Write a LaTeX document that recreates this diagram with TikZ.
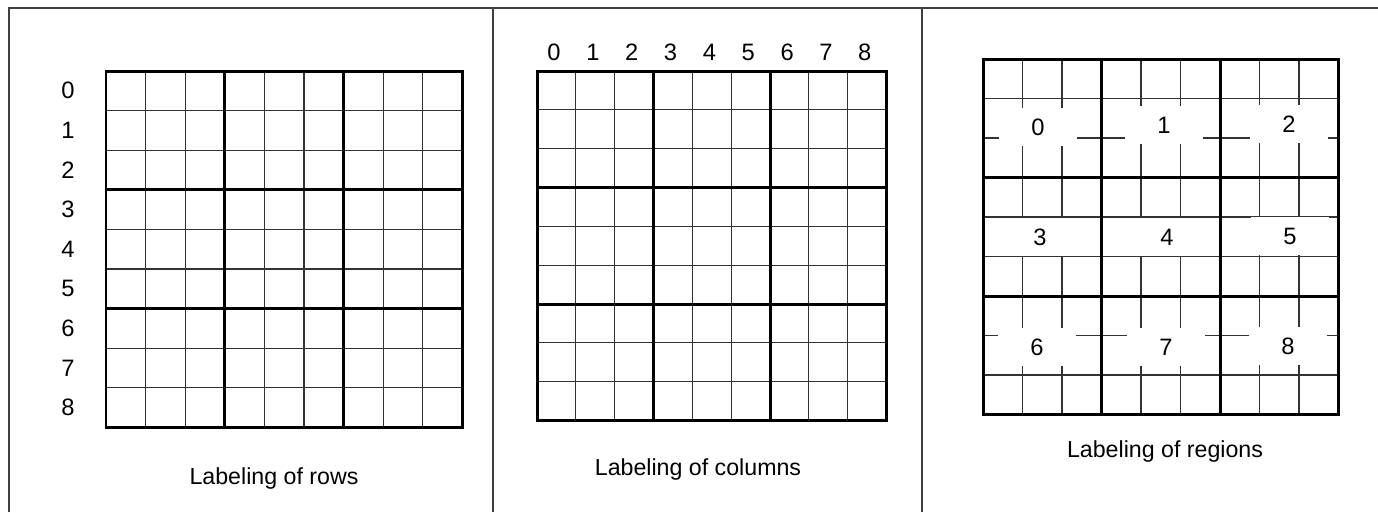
\documentclass[tikz,border=0pt]{standalone}
\usepackage{fontspec}
\setmainfont{Liberation Sans}
\usetikzlibrary{positioning}
\tikzset{
  thingrid/.style={draw=black!80,line width=0.6pt},
  boxgrid/.style={draw=black,line width=1.7pt},
  frame/.style={draw=black!75,line width=1.1pt},
  num/.style={font=\fontsize{13.5}{15}\selectfont,inner sep=0pt},
  regnum/.style={font=\fontsize{13.5}{15}\selectfont,fill=white,minimum width=44pt,minimum height=21.5pt,inner sep=0pt},
  caption/.style={font=\fontsize{13.2}{16}\selectfont},
}

\begin{document}
\begin{tikzpicture}[x=0.02cm,y=-0.02cm]
  \useasboundingbox (0,0) rectangle (1378,512);
  % panel frame
  \draw[frame] (9,512) -- (9,8) -- (1378,8);
  \draw[frame] (493,8) -- (493,512);
  \draw[frame] (922,8) -- (922,512);
  % thin cell lines of the three grids
  \foreach \gx/\gy/\s in {106/71/39.6, 537/71/38.85, 983/59/39.5} {
    \foreach \i in {1,2,4,5,7,8} {
      \draw[thingrid] (\gx+\i*\s,\gy) -- (\gx+\i*\s,\gy+9*\s);
      \draw[thingrid] (\gx,\gy+\i*\s) -- (\gx+9*\s,\gy+\i*\s);
    }
  }
  % region labels sit on white patches
  \foreach \n/\px/\py in {0/1038/127, 1/1164/125, 2/1289/124,
                          3/1040/237, 4/1167/237, 5/1290/236,
                          6/1037/347, 7/1166/347, 8/1288/346}
    \node[regnum] (g\n) at (\px,\py) {\n};
  % box lines
  \foreach \gx/\gy/\s in {106/71/39.6, 537/71/38.85, 983/59/39.5} {
    \foreach \i in {3,6} {
      \draw[boxgrid] (\gx+\i*\s,\gy) -- (\gx+\i*\s,\gy+9*\s);
      \draw[boxgrid] (\gx,\gy+\i*\s) -- (\gx+9*\s,\gy+\i*\s);
    }
    \draw[boxgrid] (\gx,\gy) rectangle (\gx+9*\s,\gy+9*\s);
  }
  % row and column numbers
  \foreach \r in {0,...,8}
    \node[num] (r\r) at (68,90.8+39.6*\r) {\r};
  \foreach \k in {0,...,8}
    \node[num] (c\k) at (554+38.85*\k,52) {\k};
  % captions
  \node[caption] (caprows) at (274,478) {Labeling of rows};
  \node[caption] (capcols) at (698,469) {Labeling of columns};
  \node[caption] (capregs) at (1165,451) {Labeling of regions};
\end{tikzpicture}
\end{document}
